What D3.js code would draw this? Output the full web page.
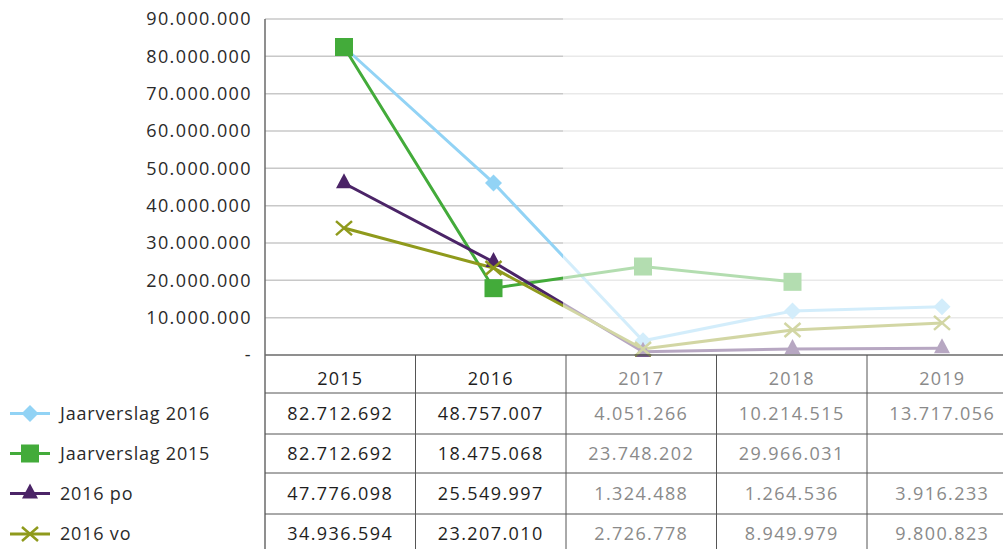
<!DOCTYPE html>
<html>
<head>
<meta charset="utf-8">
<script src="https://cdn.jsdelivr.net/npm/d3@7"></script>
<style>
  body { margin: 0; background: #fff; }
  svg { display: block; font-family: "Open Sans", sans-serif; }
</style>
</head>
<body>
<svg id="chart" width="1003" height="549"></svg>
<script>
// categories
const years = ["2015", "2016", "2017", "2018", "2019"];
const seriesNames = ["Jaarverslag 2016", "Jaarverslag 2015", "2016 po", "2016 vo"];

// values as plotted in the chart
const jaar2016Plot = [82.5e6, 46.1e6, 3.8e6, 11.8e6, 12.9e6];
const jaar2015Plot = [82.5e6, 17.9e6, 23.7e6, 19.6e6, null];
const poPlot = [46.0e6, 24.9e6, 0.9e6, 1.6e6, 1.8e6];
const voPlot = [34.0e6, 23.3e6, 1.6e6, 6.7e6, 8.6e6];

// values in the data table
const jaar2016Table = [82712692, 48757007, 4051266, 10214515, 13717056];
const jaar2015Table = [82712692, 18475068, 23748202, 29966031, null];
const poTable = [47776098, 25549997, 1324488, 1264536, 3916233];
const voTable = [34936594, 23207010, 2726778, 8949979, 9800823];

const yTicks = [0, 10e6, 20e6, 30e6, 40e6, 50e6, 60e6, 70e6, 80e6, 90e6];

const colors = ["#92d3f5", "#43ab3a", "#4b2467", "#8f9a1c"];
const shapes = ["diamond", "square", "triangle", "cross"];

const plotData = [jaar2016Plot, jaar2015Plot, poPlot, voPlot];
const tableData = [jaar2016Table, jaar2015Table, poTable, voTable];

const nl = d3.formatLocale({decimal: ",", thousands: ".", grouping: [3], currency: ["€", ""]});
const fmt = nl.format(",.0f");

const svg = d3.select("#chart");
const W = 1003;

const y = d3.scaleLinear().domain([0, 90e6]).range([355, 19]);
const x = d3.scalePoint().domain(years).range([344, 942]);
const col = d3.scaleBand().domain(years).range([265, 1017.5]);

// gridlines
svg.append("g")
    .selectAll("line")
    .data(yTicks.filter(d => d > 0))
    .join("line")
    .attr("x1", 265).attr("x2", W)
    .attr("y1", d => y(d)).attr("y2", d => y(d))
    .attr("stroke", "#c8c8c8")
    .attr("stroke-width", 1.5);

// y axis labels
const yAxis = d3.axisLeft(y)
    .tickValues(yTicks)
    .tickSize(0)
    .tickPadding(13)
    .tickFormat(d => d === 0 ? "-" : fmt(d));

const ya = svg.append("g").attr("transform", "translate(265,0)").call(yAxis);
ya.select(".domain").remove();
ya.selectAll("text")
    .attr("font-family", "Open Sans, sans-serif")
    .attr("font-size", 18)
    .attr("letter-spacing", 1.4)
    .attr("fill", "#2a2a2a");

// series lines
const line = d3.line()
    .defined(d => d.v != null)
    .x(d => x(d.year))
    .y(d => y(d.v));

const series = plotData.map((vals, i) => ({
    name: seriesNames[i],
    color: colors[i],
    shape: shapes[i],
    points: years.map((yr, j) => ({year: yr, v: vals[j]}))
}));

svg.append("g")
    .selectAll("path")
    .data(series)
    .join("path")
    .attr("d", d => line(d.points))
    .attr("fill", "none")
    .attr("stroke", d => d.color)
    .attr("stroke-width", 3);

function marker(g, shape, color) {
    if (shape === "diamond") {
        g.append("rect").attr("x", -6).attr("y", -6).attr("width", 12).attr("height", 12)
            .attr("transform", "rotate(45)").attr("fill", color);
    } else if (shape === "square") {
        g.append("rect").attr("x", -9).attr("y", -9).attr("width", 18).attr("height", 18)
            .attr("fill", color);
    } else if (shape === "triangle") {
        g.append("path").attr("d", "M0,-10L8,5L-8,5Z").attr("fill", color);
    } else {
        g.append("path").attr("d", "M-8,-7L8,7M-8,7L8,-7")
            .attr("stroke", color).attr("stroke-width", 2.5).attr("fill", "none");
    }
}

series.forEach(s => {
    svg.append("g")
        .selectAll("g")
        .data(s.points.filter(p => p.v != null))
        .join("g")
        .attr("transform", p => `translate(${x(p.year)},${y(p.v)})`)
        .each(function () { marker(d3.select(this), s.shape, s.color); });
});

// forecast years are faded
svg.append("rect")
    .attr("x", 563).attr("y", 0)
    .attr("width", W - 563).attr("height", 354)
    .attr("fill", "#fff")
    .attr("opacity", 0.6);

// baseline and axis line
svg.append("line")
    .attr("x1", 265).attr("x2", W).attr("y1", 355).attr("y2", 355)
    .attr("stroke", "#6a6a6a").attr("stroke-width", 1.5);
svg.append("line")
    .attr("x1", 265).attr("x2", 265).attr("y1", 19).attr("y2", 549)
    .attr("stroke", "#6a6a6a").attr("stroke-width", 1.5);

// table
const rowEdges = [355, 393, 434, 473, 514, 554];
const tbl = svg.append("g");

tbl.selectAll("line.h")
    .data(rowEdges.slice(1, 5))
    .join("line")
    .attr("x1", 265).attr("x2", W)
    .attr("y1", d => d).attr("y2", d => d)
    .attr("stroke", "#555").attr("stroke-width", 1);

tbl.selectAll("line.v")
    .data(years.slice(1))
    .join("line")
    .attr("x1", d => col(d)).attr("x2", d => col(d))
    .attr("y1", 355).attr("y2", 549)
    .attr("stroke", "#555").attr("stroke-width", 1);

const textColor = (i) => i < 2 ? "#1e1e1e" : "#8a8a8a";

tbl.selectAll("text.head")
    .data(years)
    .join("text")
    .attr("x", d => col(d) + col.bandwidth() / 2)
    .attr("y", 379)
    .attr("dy", "0.35em")
    .attr("text-anchor", "middle")
    .attr("font-size", 18)
    .attr("letter-spacing", 1.2)
    .attr("fill", (d, i) => textColor(i))
    .text(d => d);

tableData.forEach((row, r) => {
    const cy = (rowEdges[r + 1] + rowEdges[r + 2]) / 2;
    tbl.append("g")
        .selectAll("text")
        .data(row.map((v, i) => ({v, i})))
        .join("text")
        .attr("x", d => col(years[d.i]) + col.bandwidth() / 2)
        .attr("y", cy)
        .attr("dy", "0.35em")
        .attr("text-anchor", "middle")
        .attr("font-size", 18)
        .attr("letter-spacing", 1.4)
        .attr("fill", d => textColor(d.i))
        .text(d => d.v == null ? "" : fmt(d.v));

    // legend entry
    const lg = svg.append("g").attr("transform", `translate(0,${cy})`);
    lg.append("line").attr("x1", 10).attr("x2", 50)
        .attr("stroke", colors[r]).attr("stroke-width", 3);
    marker(lg.append("g").attr("transform", "translate(30,0)"), shapes[r], colors[r]);
    lg.append("text")
        .attr("x", 60).attr("dy", "0.35em")
        .attr("font-size", 18)
        .attr("letter-spacing", 0.8)
        .attr("fill", "#2a2a2a")
        .text(seriesNames[r]);
});
</script>
</body>
</html>
